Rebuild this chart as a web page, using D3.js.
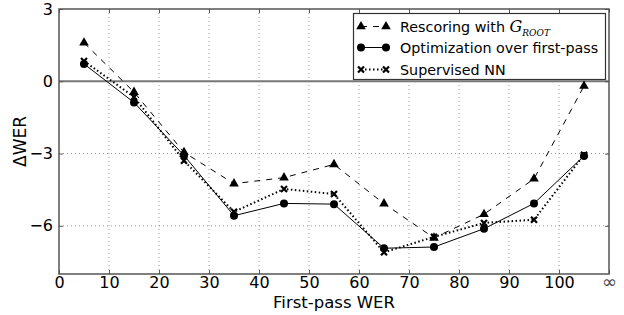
<!DOCTYPE html>
<html><head><meta charset="utf-8">
<script src="https://cdn.jsdelivr.net/npm/d3@7"></script>
<style>body{margin:0;background:#fff}svg{display:block}text{font-family:"DejaVu Sans",sans-serif}</style>
</head><body><svg id="c" width="624" height="315"></svg>
<script>
const xValues = [5, 15, 25, 35, 45, 55, 65, 75, 85, 95, 105];
const rescoring = [1.6, -0.45, -2.95, -4.25, -4.0, -3.45, -5.08, -6.5, -5.52, -4.05, -0.2];
const optimization = [0.72, -0.88, -3.08, -5.58, -5.07, -5.1, -6.93, -6.88, -6.12, -5.07, -3.1];
const supervised = [0.84, -0.65, -3.3, -5.42, -4.47, -4.68, -7.1, -6.46, -5.88, -5.75, -3.05];
const xTicks = [0, 10, 20, 30, 40, 50, 60, 70, 80, 90, 100, 110];
const xTickLabels = ["0", "10", "20", "30", "40", "50", "60", "70", "80", "90", "100", "\u221E"];
const yTicks = [3, 0, -3, -6];
const seriesNames = ["Rescoring with", "Optimization over first-pass", "Supervised NN"];

const svg = d3.select("#c");
const L = 59, R = 609, T = 9, B = 274;
const x = d3.scaleLinear().domain([0, 110]).range([L, R]);
const y = d3.scaleLinear().domain([-8, 3]).range([B, T]);

// grid
const g = svg.append("g");
g.selectAll(".gx").data(xTicks.filter(v => v > 0 && v < 110)).join("line")
  .attr("x1", d => x(d)).attr("x2", d => x(d)).attr("y1", T).attr("y2", B)
  .attr("stroke", "#999").attr("stroke-width", 1).attr("stroke-dasharray", "1,3");
g.selectAll(".gy").data(yTicks.filter(v => v < 0)).join("line")
  .attr("x1", L).attr("x2", R).attr("y1", d => y(d)).attr("y2", d => y(d))
  .attr("stroke", "#999").attr("stroke-width", 1).attr("stroke-dasharray", "1,3");
// zero line
svg.append("line").attr("x1", L).attr("x2", R).attr("y1", y(0)).attr("y2", y(0))
  .attr("stroke", "#777").attr("stroke-width", 2);

// axes
const xa = svg.append("g").attr("transform", `translate(0,${B})`)
  .call(d3.axisBottom(x).tickValues(xTicks).tickFormat((d, i) => xTickLabels[i]).tickSizeInner(-4).tickSizeOuter(0).tickPadding(3));
xa.selectAll("text").attr("font-size", 16).attr("fill", "#000");
xa.selectAll("text").filter((d) => d === 110).attr("fill", "#444").attr("font-size", 18).attr("dy", "0.6em");
xa.select(".domain").remove();
xa.selectAll(".tick line").attr("stroke", "#555");
const ya = svg.append("g").attr("transform", `translate(${L},0)`)
  .call(d3.axisLeft(y).tickValues(yTicks).tickFormat(d => d < 0 ? "\u2212" + Math.abs(d) : String(d)).tickSizeInner(-4).tickSizeOuter(0).tickPadding(6));
ya.selectAll("text").attr("font-size", 16).attr("fill", "#000");
ya.select(".domain").remove();
ya.selectAll(".tick line").attr("stroke", "#555");
// top / right ticks
const xt = svg.append("g").attr("transform", `translate(0,${T})`)
  .call(d3.axisTop(x).tickValues(xTicks).tickFormat("").tickSizeInner(-4).tickSizeOuter(0));
xt.select(".domain").remove(); xt.selectAll(".tick line").attr("stroke", "#555");
const yr = svg.append("g").attr("transform", `translate(${R},0)`)
  .call(d3.axisRight(y).tickValues(yTicks).tickFormat("").tickSizeInner(-4).tickSizeOuter(0));
yr.select(".domain").remove(); yr.selectAll(".tick line").attr("stroke", "#555");

svg.append("rect").attr("x", L).attr("y", T).attr("width", R - L).attr("height", B - T)
  .attr("fill", "none").attr("stroke", "#555").attr("stroke-width", 1.5);

// labels
svg.append("text").attr("x", (L + R) / 2).attr("y", 308).attr("text-anchor", "middle")
  .attr("font-size", 16.5).text("First-pass WER");
svg.append("text").attr("transform", `translate(26,${(T + B) / 2}) rotate(-90)`).attr("text-anchor", "middle")
  .attr("font-size", 17).text("\u0394WER");

// series
const line = d3.line().x((d, i) => x(xValues[i])).y(d => y(d));
const styles = [
  {data: rescoring, dash: "6,6", width: 1, marker: "tri"},
  {data: optimization, dash: null, width: 1, marker: "circ"},
  {data: supervised, dash: "1.5,2.5", width: 2, marker: "x"}
];
function drawMarker(sel, type, cx, cy) {
  if (type === "tri") {
    sel.append("path").attr("d", d3.symbol(d3.symbolTriangle, 40)()).attr("transform", `translate(${cx},${cy})`).attr("fill", "#000");
  } else if (type === "circ") {
    sel.append("circle").attr("cx", cx).attr("cy", cy).attr("r", 4).attr("fill", "#000");
  } else {
    sel.append("path").attr("d", "M-3,-3L3,3M-3,3L3,-3").attr("transform", `translate(${cx},${cy})`)
      .attr("stroke", "#000").attr("stroke-width", 2.2).attr("fill", "none");
  }
}
styles.forEach(s => {
  svg.append("path").datum(s.data).attr("d", line).attr("fill", "none")
    .attr("stroke", "#000").attr("stroke-width", s.width).attr("stroke-dasharray", s.dash);
  const mg = svg.append("g");
  s.data.forEach((v, i) => drawMarker(mg, s.marker, x(xValues[i]), y(v)));
});

// legend
const lg = svg.append("g");
lg.append("rect").attr("x", 353.5).attr("y", 13.5).attr("width", 252).attr("height", 66)
  .attr("fill", "#fff").attr("stroke", "#333").attr("stroke-width", 1.2);
const rows = [26.5, 47.5, 69.5];
styles.forEach((s, i) => {
  lg.append("line").attr("x1", 361).attr("x2", 386).attr("y1", rows[i]).attr("y2", rows[i])
    .attr("stroke", "#000").attr("stroke-width", s.width).attr("stroke-dasharray", s.dash);
  drawMarker(lg, s.marker, 361, rows[i]);
  drawMarker(lg, s.marker, 386, rows[i]);
  const t = lg.append("text").attr("x", 400).attr("y", rows[i] + 5).attr("font-size", 14.3).text(seriesNames[i]);
  if (i === 0) {
    t.append("tspan").text(" ");
    t.append("tspan").attr("font-family", "DejaVu Serif").attr("font-style", "italic").attr("font-size", 16).text("G");
    t.append("tspan").attr("font-family", "DejaVu Serif").attr("font-style", "italic").attr("font-size", 9).attr("dy", 4).text("ROOT");
  }
});
</script></body></html>
